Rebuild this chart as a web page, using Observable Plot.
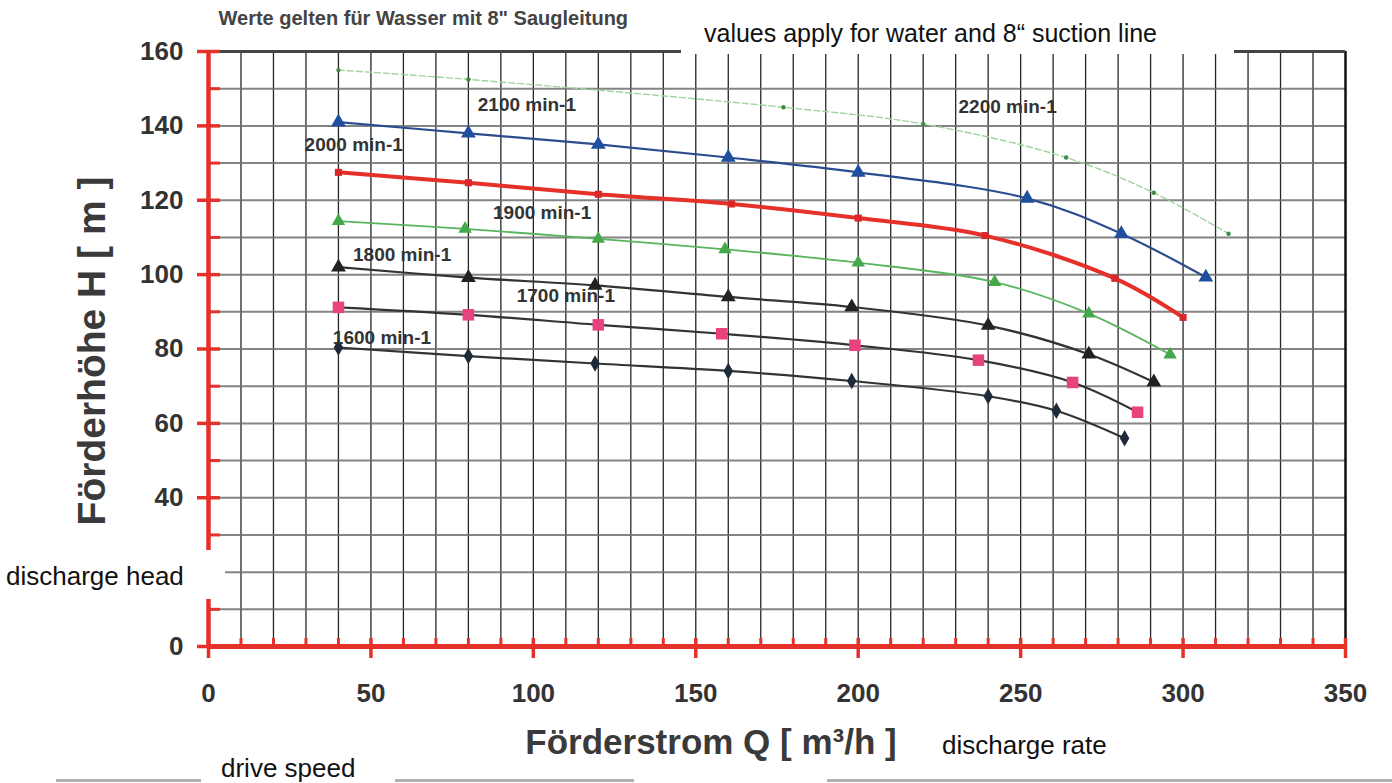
<!DOCTYPE html>
<html><head><meta charset="utf-8">
<script src="https://cdn.jsdelivr.net/npm/d3@7"></script>
<script src="https://cdn.jsdelivr.net/npm/@observablehq/plot@0.6"></script>
<style>
html,body{margin:0;padding:0;background:#fff;}
#wrap{position:relative;width:1392px;height:783px;overflow:hidden;font-family:"Liberation Sans",Arial,sans-serif;}
#wrap svg{position:absolute;left:0;top:0;}
.box{position:absolute;background:#fff;}
.en{position:absolute;font-size:26px;color:#111;white-space:nowrap;line-height:26px;}
.scan{position:absolute;height:3px;background:#b0b0b0;}
</style></head><body><div id="wrap"></div>
<script>
// ---- data ----
const speeds = ["2200 min-1","2100 min-1","2000 min-1","1900 min-1","1800 min-1","1700 min-1","1600 min-1"];
const q2200 = [40, 80, 177, 220, 264, 291, 314];
const h2200 = [155, 152.5, 145, 140.5, 131.5, 122, 111];
const q2100 = [40, 80, 120, 160, 200, 252, 281, 307];
const h2100 = [141, 138, 135, 131.5, 127.5, 120.5, 111, 99.3];
const q2000 = [40, 80, 120, 161, 200, 239, 279, 300];
const h2000 = [127.5, 124.7, 121.6, 119, 115.2, 110.5, 99, 88.5];
const q1900 = [40, 79, 120, 159, 200, 242, 271, 296];
const h1900 = [114.4, 112.3, 109.6, 106.8, 103.2, 98, 89.5, 78.5];
const q1800 = [40, 80, 119, 160, 198, 240, 271, 291];
const h1800 = [102, 99.2, 97.1, 94, 91.3, 86.3, 78.6, 71.1];
const q1700 = [40, 80, 120, 158, 199, 237, 266, 286];
const h1700 = [91.2, 89.2, 86.5, 84.1, 81, 77, 71, 63];
const q1600 = [40, 80, 119, 160, 198, 240, 261, 282];
const h1600 = [80.4, 78.1, 76.1, 74.1, 71.4, 67.3, 63.4, 56];
// label anchor points (Q, H) for the speed labels
const labelQ = [246, 98, 44.7, 102.7, 59.6, 110, 53.4];
const labelH = [145.2, 145.7, 134.9, 116.6, 105.4, 94.3, 82.9];
// ticks
const xTickLabels = [0, 50, 100, 150, 200, 250, 300, 350];
const yTickLabels = [0, 40, 60, 80, 100, 120, 140, 160]; // "20" is hidden under the white patch in the reference
const yMajorTicks = [0, 20, 40, 60, 80, 100, 120, 140, 160];
const xGridTicks = [10,20,30,40,50,60,70,80,90,100,110,120,130,140,150,160,170,180,190,200,210,220,230,240,250,260,270,280,290,300,310,320,330,340];
const yGridTicks = [10,20,30,40,50,60,70,80,90,100,110,120,130,140,150,160];
const yMinorTicks = [10,30,50,70,90,110,130,150];
const xMinorTicks = [10,20,30,40,60,70,80,90,110,120,130,140,160,170,180,190,210,220,230,240,260,270,280,290,310,320,330,340];

// ---- styles ----
const RED = "#e6302a";
const styles = [
  {color:"#9fd49f", width:1.4, dash:"6,3", symbol:"circle",   r:2.2, fill:"#3f8a45"},
  {color:"#2b4d8f", width:2.2, dash:null,  symbol:"triangle", r:5.5, fill:"#1f4f9e"},
  {color:RED,       width:4,   dash:null,  symbol:"square",   r:4,   fill:"#d8282a"},
  {color:"#5ab55e", width:1.8, dash:null,  symbol:"triangle", r:5,   fill:"#45a84a"},
  {color:"#333333", width:2.2, dash:null,  symbol:"triangle", r:5.5, fill:"#222222"},
  {color:"#333333", width:2.2, dash:null,  symbol:"square",   r:6.5, fill:"#e8437f"},
  {color:"#333333", width:2.2, dash:null,  symbol:"diamond",  r:5,   fill:"#1c2a3a"}
];
const qs = [q2200, q2100, q2000, q1900, q1800, q1700, q1600];
const hs = [h2200, h2100, h2000, h1900, h1800, h1700, h1600];
const seriesPts = qs.map((q, k) => q.map((v, i) => ({q: v, h: hs[k][i], speed: speeds[k]})));

const lineMarks = seriesPts.map((pts, k) => Plot.line(pts, {
  x: "q", y: "h", curve: "catmull-rom",
  stroke: styles[k].color, strokeWidth: styles[k].width,
  strokeDasharray: styles[k].dash || undefined
}));
const dotMarks = seriesPts.map((pts, k) => Plot.dot(pts, {
  x: "q", y: "h", symbol: styles[k].symbol, r: styles[k].r, fill: styles[k].fill, stroke: "none"
}));

const chart = Plot.plot({
  width: 1392, height: 783,
  marginTop: 51, marginBottom: 137, marginLeft: 208, marginRight: 47,
  x: {domain: [0, 350], axis: null},
  y: {domain: [0, 160], axis: null},
  style: {fontFamily: "'Liberation Sans', Arial, sans-serif", background: "white", overflow: "visible"},
  marks: [
    Plot.ruleX(xGridTicks, {x: d => d, y1: 0, y2: 160, stroke: "#262626", strokeWidth: 1.3}),
    Plot.ruleY(yGridTicks, {y: d => d, x1: 0, x2: 350, stroke: "#6e6e6e", strokeWidth: 2, strokeOpacity: 0.85}),
    Plot.ruleX([350], {y1: 0, y2: 160, stroke: "#111", strokeWidth: 2.5}),
    Plot.ruleY([160], {x1: 0, x2: 350, stroke: "#444", strokeWidth: 3}),
    ...lineMarks,
    ...dotMarks,
    Plot.text(speeds, {x: (d, i) => labelQ[i], y: (d, i) => labelH[i], text: d => d,
      fontSize: 19, fontWeight: "bold", fill: "#333"}),
    // red axes
    Plot.ruleX([0], {y1: 0, y2: 160, stroke: RED, strokeWidth: 4.5}),
    Plot.ruleY([0], {x1: 0, x2: 350, stroke: RED, strokeWidth: 5}),
    Plot.ruleY(yMajorTicks, {y: d => d, x1: 0, x2: 0, insetLeft: -11, insetRight: -12, stroke: RED, strokeWidth: 3.5}),
    Plot.ruleY(yMinorTicks, {y: d => d, x1: 0, x2: 0, insetLeft: 0, insetRight: -12, stroke: RED, strokeWidth: 3}),
    Plot.ruleX(xMinorTicks, {x: d => d, y1: 0, y2: 0, insetTop: -8, insetBottom: 0, stroke: RED, strokeWidth: 3}),
    Plot.ruleX(xTickLabels, {x: d => d, y1: 0, y2: 0, insetTop: -8, insetBottom: -12, stroke: RED, strokeWidth: 3.5}),
    // tick labels
    Plot.text(xTickLabels, {x: d => d, y: 0, dy: 47, text: d => String(d), fontSize: 26, fontWeight: "bold", fill: "#333"}),
    Plot.text(yTickLabels, {x: 0, y: d => d, dx: -25, textAnchor: "end", text: d => String(d), fontSize: 26, fontWeight: "bold", fill: "#333"}),
    // axis titles and note
    Plot.text(["Förderstrom Q [ m³/h ]"], {frameAnchor: "bottom", textAnchor: "middle", lineAnchor: "middle", dx: -66, dy: 96, fontSize: 35, fontWeight: "bold", fill: "#3a3a3a"}),
    Plot.text(["Förderhöhe H [ m ]"], {frameAnchor: "left", textAnchor: "middle", lineAnchor: "middle", dx: -116, dy: 2, rotate: -90, fontSize: 39, fontWeight: "bold", fill: "#3a3a3a"}),
    Plot.text(["Werte gelten für Wasser mit 8\" Saugleitung"], {frameAnchor: "top-left", textAnchor: "start", lineAnchor: "middle", dx: 10, dy: -33, fontSize: 20, fontWeight: "bold", fill: "#444"})
  ]
});

const wrap = document.getElementById("wrap");
wrap.appendChild(chart);

function addDiv(cls, css, text) {
  const d = document.createElement("div");
  d.className = cls;
  Object.assign(d.style, css);
  if (text) d.textContent = text;
  wrap.appendChild(d);
}
// white patches and English annotations
addDiv("box", {left: "681px", top: "0px", width: "553px", height: "54px"});
addDiv("en", {left: "704px", top: "20px", fontSize: "25px"}, "values apply for water and 8“ suction line");
addDiv("box", {left: "0px", top: "550px", width: "225px", height: "49px"});
addDiv("en", {left: "6px", top: "563px"}, "discharge head");
addDiv("en", {left: "942px", top: "732px"}, "discharge rate");
addDiv("scan", {left: "56px", top: "779px", width: "145px"});
addDiv("scan", {left: "395px", top: "779px", width: "239px"});
addDiv("scan", {left: "827px", top: "779px", width: "565px"});
addDiv("en", {left: "221px", top: "755px"}, "drive speed");
</script></body></html>
